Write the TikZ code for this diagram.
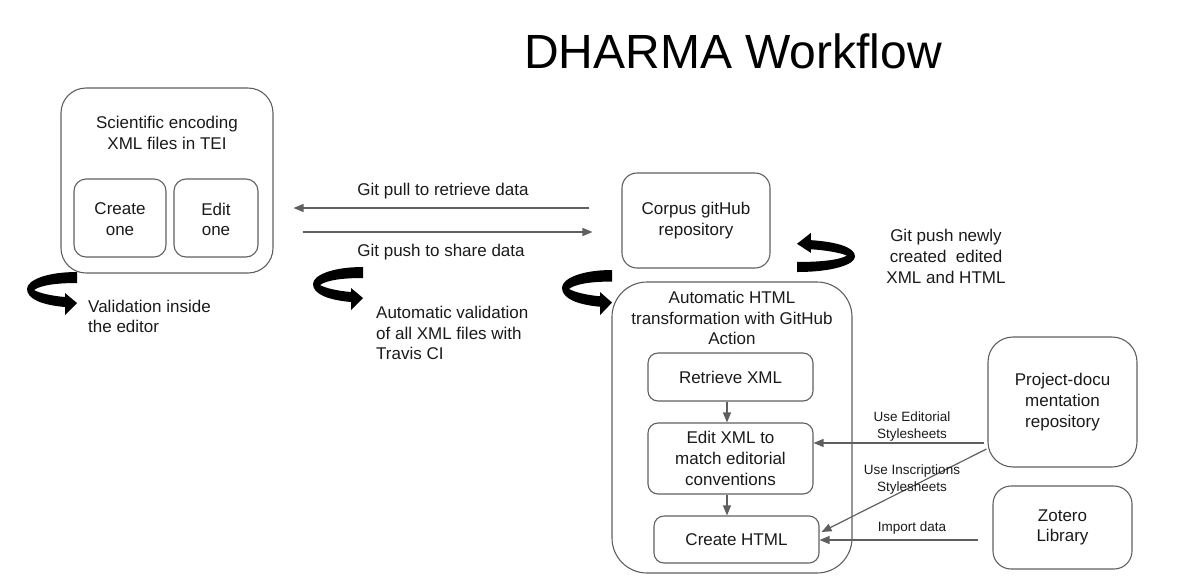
\documentclass[tikz,border=0pt]{standalone}
\usepackage{fontspec}
\setmainfont{Liberation Sans}
\usetikzlibrary{arrows.meta}
\definecolor{edge}{HTML}{5F5F5F}
\definecolor{ink}{HTML}{1A1A1A}
\tikzset{
  box/.style={draw=edge, line width=1.1pt, rounded corners=#1, inner sep=0pt},
  box/.default=12pt,
  txt/.style={text=ink, align=center, inner sep=0pt, font=\fontsize{17}{20.8}\selectfont},
  lbl/.style={text=ink, align=center, inner sep=0pt, font=\fontsize{13.5}{16.5}\selectfont},
  arr/.style={draw=edge, line width=1.2pt, -{Triangle[length=10pt,width=8pt]}},
  uturn/.pic={
    \fill[black] (50,0) .. controls (20,0) and (0,8) .. (0,17)
      .. controls (0,27) and (15,33) .. (38,35) -- (38,43) -- (50,31) -- (38,21) -- (38,25)
      .. controls (25,24) and (12,21) .. (7,18) .. controls (14,13) and (30,11) .. (50,11) -- cycle;
  }
}
\begin{document}
\begin{tikzpicture}[x=1pt,y=-1pt]
\useasboundingbox (0,0) rectangle (1177,584);
% title
\node[text=black, inner sep=0pt, anchor=base, font=\fontsize{48}{50}\selectfont] (title) at (733,68) {DHARMA Workflow};

% left group
\node[box=25pt, minimum width=212pt, minimum height=185pt] (sci) at (167,180.5) {};
\node[txt] (scit) at (167,133) {Scientific encoding\\XML files in TEI};
\node[box=12pt, minimum width=92pt, minimum height=78pt] (create) at (120,218) {};
\node[txt] (createt) at (120,219.5) {Create\\one};
\node[box=12pt, minimum width=84pt, minimum height=78pt] (edit) at (216,218) {};
\node[txt] (editt) at (216,219.5) {Edit\\one};

\pic at (27,272) {uturn};
\node[txt, align=left, anchor=west] (val1) at (88,316.5) {Validation inside\\the editor};

% corpus
\node[box=15pt, minimum width=148pt, minimum height=95pt] (corpus) at (696,220.5) {};
\node[txt] (corpust) at (696,220.5) {Corpus gitHub\\repository};

\draw[arr, shorten <=32pt, shorten >=20pt] ([yshift=12.5pt]corpus.west) -- ([yshift=12.5pt]corpus.west -| sci.east);
\node[txt] (pullt) at (443,191) {Git pull to retrieve data};
\draw[arr, shorten <=29pt, shorten >=29pt] ([yshift=-11.5pt]corpus.west -| sci.east) -- ([yshift=-11.5pt]corpus.west);
\node[txt] (pusht) at (441,252) {Git push to share data};

\pic at (313,267) {uturn};
\node[txt, align=left, anchor=west] (val2) at (376,333) {Automatic validation\\of all XML files with\\Travis CI};

\pic[yscale=1.05] at (562,270) {uturn};
\pic[rotate=180, xscale=1.16, yscale=0.91] at (855,272) {uturn};
\node[txt] (pushnew) at (946,256.5) {Git push newly\\created\ \ edited\\XML and HTML};

% big box
\node[box=35pt, minimum width=240pt, minimum height=291pt] (html) at (732,427.5) {};
\node[txt] (htmlt) at (732,318) {Automatic HTML\\transformation with GitHub\\Action};
\node[box=10pt, minimum width=165pt, minimum height=48pt] (retr) at (730.5,377) {};
\node[txt] (retrt) at (730.5,377) {Retrieve XML};
\node[box=10pt, minimum width=165pt, minimum height=71pt] (editxml) at (730.5,458.5) {};
\node[txt] (editxmlt) at (730.5,458.5) {Edit XML to\\match editorial\\conventions};
\node[box=10pt, minimum width=165pt, minimum height=47pt] (chtml) at (736.5,539.5) {};
\node[txt] (chtmlt) at (736.5,539.5) {Create HTML};

\draw[arr] ([xshift=-3.5pt]retr.south) -- ([xshift=-3.5pt]editxml.north);
\draw[arr] ([xshift=-3.5pt]editxml.south) -- ([xshift=-3.5pt]editxml.south |- chtml.north);

% right boxes
\node[box=25pt, minimum width=149pt, minimum height=130pt] (proj) at (1062.5,402) {};
\node[txt] (projt) at (1062.5,402) {Project-docu\\mentation\\repository};
\node[box=18pt, minimum width=139pt, minimum height=83pt] (zot) at (1062.5,527.5) {};
\node[txt] (zott) at (1062.5,527.5) {Zotero\\Library};

\draw[arr, shorten <=3pt] ([yshift=-41pt]proj.west) -- ([yshift=-41pt]proj.west -| editxml.east);
\node[lbl] (useed) at (912,426.5) {Use Editorial\\Stylesheets};
\draw[arr] ([xshift=-1pt,yshift=-47pt]proj.west) -- ([xshift=2pt,yshift=7.5pt]chtml.east);
\node[lbl] (useins) at (912,479.5) {Use Inscriptions\\Stylesheets};
\draw[arr, shorten <=14pt] ([yshift=-12.5pt]zot.west) -- ([yshift=-12.5pt]zot.west -| chtml.east);
\node[lbl] (imp) at (912,528) {Import data};
\end{tikzpicture}
\end{document}
